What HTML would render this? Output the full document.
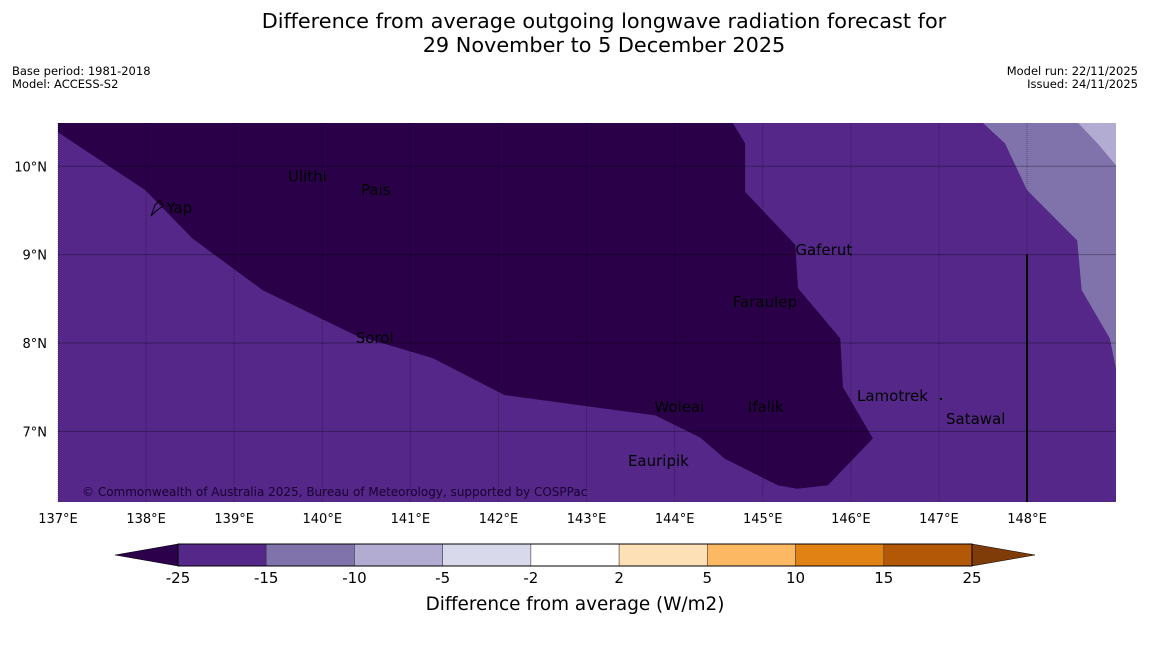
<!DOCTYPE html>
<html><head><meta charset="utf-8"><style>
body{margin:0;background:#fff;width:1150px;height:644px;overflow:hidden;font-family:"Liberation Sans","DejaVu Sans",sans-serif}
svg text{font-family:"DejaVu Sans","Liberation Sans",sans-serif}
</style></head><body>
<svg id="c" width="1150" height="644">
<text x="604" y="28" font-size="20.8" text-anchor="middle">Difference from average outgoing longwave radiation forecast for</text>
<text x="604" y="52" font-size="20.8" text-anchor="middle">29 November to 5 December 2025</text>
<text x="12" y="75" font-size="11.5">Base period: 1981-2018</text>
<text x="12" y="88" font-size="11.5">Model: ACCESS-S2</text>
<text x="1138" y="75" font-size="11.5" text-anchor="end">Model run: 22/11/2025</text>
<text x="1138" y="88" font-size="11.5" text-anchor="end">Issued: 24/11/2025</text>
<g id="map"></g>
<g id="cbar"></g>
<text x="575" y="610" font-size="18.4" text-anchor="middle">Difference from average (W/m2)</text>
</svg>
<script>
const lonTicks=[137,138,139,140,141,142,143,144,145,146,147,148];
const latTicks=[7,8,9,10];
const darkRegion=[[137,10.385],[137.99,9.73],[138.53,9.18],[139.32,8.60],[140.37,8.09],[141.25,7.83],[142.07,7.41],[143.78,7.18],[144.29,6.93],[144.57,6.69],[145.17,6.39],[145.39,6.35],[145.74,6.39],[146.25,6.92],[145.91,7.50],[145.88,8.05],[145.40,8.62],[145.37,9.11],[144.80,9.71],[144.80,10.26],[144.66,10.49],[137,10.49]];
const midRegion=[[147.50,10.49],[147.75,10.26],[148.0,9.73],[148.57,9.16],[148.62,8.60],[148.94,8.05],[149.01,7.71],[149.01,10.49]];
const lightRegion=[[148.58,10.49],[148.80,10.26],[149.01,10.01],[149.01,10.49]];
const placeNames=["Ulithi","Pais","Yap","Gaferut","Faraulep","Sorol","Woleai","Ifalik","Lamotrek","Satawal","Eauripik"];
const placeLon=[139.61,140.44,138.23,145.37,144.66,140.38,143.77,144.83,146.07,147.08,143.47];
const placeLat=[9.83,9.675,9.471,8.996,8.407,8.0,7.219,7.219,7.343,7.083,6.607];
const levels=[-25,-15,-10,-5,-2,2,5,10,15,25];
const levelColors=["#542788","#8073ac","#b2abd2","#d8daeb","#ffffff","#fee0b6","#fdb863","#e08214","#b35806"];
const NS="http://www.w3.org/2000/svg";
const X0=58,X1=1116,Y0=123,Y1=502,LON0=137,LON1=149.01,LAT0=6.2,LAT1=10.49;
const xs=l=>X0+(l-LON0)/(LON1-LON0)*(X1-X0);
const ys=l=>Y1-(l-LAT0)/(LAT1-LAT0)*(Y1-Y0);
function mk(t,a,p){const e=document.createElementNS(NS,t);for(const k in a)e.setAttribute(k,a[k]);p.appendChild(e);return e;}
const map=document.getElementById('map');
let r=mk('rect',{x:X0,y:Y0,width:X1-X0,height:Y1-Y0,fill:'#542788'},map);


function poly(pts,fill,name){const p=mk('polygon',{points:pts.map(q=>xs(q[0])+','+ys(q[1])).join(' '),fill:fill},map);

}
poly(darkRegion,'#2a0048','region-below-25');
poly(midRegion,'#8073ac','region-15-to-10');
poly(lightRegion,'#b2abd2','region-10-to-5');
lonTicks.forEach(l=>{const ln=mk('line',{x1:xs(l),x2:xs(l),y1:Y0,y2:Y1,stroke:'rgba(0,0,0,0.35)','stroke-width':1,'stroke-dasharray':'1,1'},map);


const t=mk('text',{x:xs(l),y:523,'font-size':13,'text-anchor':'middle'},map);t.textContent=l+'°E';

});
latTicks.forEach(l=>{const ln=mk('line',{x1:X0,x2:X1,y1:ys(l),y2:ys(l),stroke:'rgba(0,0,0,0.3)','stroke-width':1},map);


const t=mk('text',{x:47,y:ys(l)+5,'font-size':13,'text-anchor':'end'},map);t.textContent=l+'°N';

});
let bl=mk('line',{x1:xs(148),x2:xs(148),y1:ys(9),y2:Y1,stroke:'#000','stroke-width':2},map);


let yap=mk('path',{d:'M151,216 L155,205 L160,200 L163,206 L156,211 Z',fill:'none',stroke:'#000','stroke-width':1},map);


placeNames.forEach((n,i)=>{const t=mk('text',{x:xs(placeLon[i]),y:ys(placeLat[i]),'font-size':15,fill:'#000'},map);t.textContent=n;

});
let dot=mk('rect',{x:940,y:398,width:2,height:2,fill:'#000'},map);


let cp=mk('text',{x:82,y:496,'font-size':12,fill:'#1a0033'},map);cp.textContent='© Commonwealth of Australia 2025, Bureau of Meteorology, supported by COSPPac';


const cb=document.getElementById('cbar');
const CX0=178,CX1=972,CY0=544,CY1=566;
const cbx=i=>CX0+i*(CX1-CX0)/(levels.length-1);
let lt=mk('polygon',{points:`115,555 ${CX0},${CY0} ${CX0},${CY1}`,fill:'#2d004b',stroke:'#000','stroke-width':0.5},cb);


let rt=mk('polygon',{points:`1035,555 ${CX1},${CY0} ${CX1},${CY1}`,fill:'#7f3b08',stroke:'#000','stroke-width':0.5},cb);


levelColors.forEach((c,i)=>{const s=mk('rect',{x:cbx(i),y:CY0,width:cbx(i+1)-cbx(i),height:CY1-CY0,fill:c,stroke:'#333','stroke-width':0.5},cb);

});
mk('rect',{x:CX0,y:CY0,width:CX1-CX0,height:CY1-CY0,fill:'none',stroke:'#000','stroke-width':1},cb);
levels.forEach((v,i)=>{const t=mk('text',{x:cbx(i),y:583,'font-size':15,'text-anchor':'middle'},cb);t.textContent=v;

});
</script>
</body></html>
